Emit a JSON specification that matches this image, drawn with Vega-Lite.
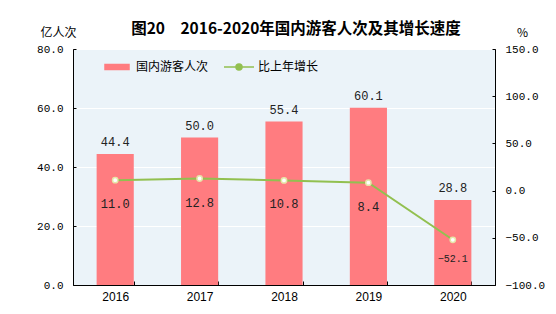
{
  "$schema": "https://vega.github.io/schema/vega-lite/v6.json",
  "autosize": "none",
  "width": 422,
  "height": 236,
  "padding": {"left": 73, "top": 49, "right": 61, "bottom": 29},
  "background": "white",
  "title": {
    "text": "图20　2016-2020年国内游客人次及其增长速度",
    "font": "Noto Sans CJK SC",
    "fontSize": 15.5,
    "fontWeight": "bold",
    "color": "#000",
    "anchor": "middle",
    "dx": 12,
    "dy": 27,
    "offset": 16
  },
  "config": {
    "view": {"fill": "#EBF3F9", "stroke": "#000", "strokeWidth": 1},
    "axis": {
      "labelFont": "Liberation Mono",
      "labelFontSize": 11,
      "labelColor": "#000",
      "domainColor": "#000",
      "tickColor": "#000",
      "titleFont": "Noto Sans CJK SC",
      "titleFontSize": 12,
      "titleFontWeight": "normal",
      "titleColor": "#000"
    }
  },
  "data": {
    "values": [
      {"year": "2016", "visitors": 44.4, "growth": 11.0},
      {"year": "2017", "visitors": 50.0, "growth": 12.8},
      {"year": "2018", "visitors": 55.4, "growth": 10.8},
      {"year": "2019", "visitors": 60.1, "growth": 8.4},
      {"year": "2020", "visitors": 28.8, "growth": -52.1}
    ]
  },
  "encoding": {
    "x": {
      "field": "year",
      "type": "ordinal",
      "scale": {"paddingInner": 0.56, "paddingOuter": 0.28},
      "axis": {
        "title": null,
        "labelAngle": 0,
        "labelFont": "Liberation Sans",
        "labelFontSize": 12,
        "tickBand": "extent",
        "tickSize": -4,
        "labelPadding": 10,
        "grid": false
      }
    }
  },
  "layer": [
    {
      "layer": [
        {
          "mark": {"type": "bar"},
          "encoding": {
            "y": {
              "field": "visitors",
              "type": "quantitative",
              "scale": {"domain": [0, 80], "nice": false},
              "axis": {
                "title": "亿人次",
                "titleAngle": 0,
                "titleAlign": "center",
                "titleBaseline": "middle",
                "titleX": -15,
                "titleY": -17,
                "values": [0, 20, 40, 60, 80],
                "format": ".1f",
                "grid": true,
                "gridColor": "#ffffff",
                "gridWidth": 1,
                "tickSize": -3,
                "labelPadding": 13
              }
            },
            "color": {
              "datum": "国内游客人次",
              "type": "nominal",
              "scale": {"domain": ["国内游客人次", "比上年增长"], "range": ["#FF7C80", "#92C050"]},
              "legend": {
                "orient": "none",
                "legendX": 28,
                "legendY": 2,
                "direction": "horizontal",
                "title": null,
                "padding": 0,
                "symbolSize": 900,
                "labelFont": "Noto Sans CJK SC",
                "labelFontSize": 12,
                "labelColor": "#000",
                "labelOffset": 3,
                "columnPadding": 12,
                "encode": {
                  "symbols": {
                    "update": {
                      "shape": {"signal": "datum.value === '国内游客人次' ? 'M-0.8,-0.17H0.8V0.17H-0.8Z' : 'M-1,0H-0.2M0.2,0H1M0.2,0A0.2,0.2 0 1 1 -0.2,0A0.2,0.2 0 1 1 0.2,0'"},
                      "fill": {"signal": "datum.value === '国内游客人次' ? '#FF7C80' : '#ffffff'"},
                      "stroke": {"signal": "datum.value === '国内游客人次' ? 'transparent' : '#92C050'"},
                      "strokeWidth": {"value": 1.5},
                      "fillOpacity": {"value": 1},
                      "strokeOpacity": {"value": 1},
                      "opacity": {"value": 1}
                    }
                  }
                }
              }
            }
          }
        },
        {
          "mark": {"type": "text", "font": "Liberation Mono", "fontSize": 12, "color": "#222", "baseline": "middle", "dy": -12},
          "encoding": {
            "y": {"field": "visitors", "type": "quantitative", "scale": {"domain": [0, 80], "nice": false}},
            "text": {"field": "visitors", "type": "quantitative", "format": ".1f"}
          }
        }
      ]
    },
    {
      "layer": [
        {
          "mark": {"type": "line", "strokeWidth": 2},
          "encoding": {
            "y": {
              "field": "growth",
              "type": "quantitative",
              "scale": {"domain": [-100, 150], "nice": false},
              "axis": {
                "orient": "right",
                "title": "%",
                "titleAngle": 0,
                "titleAlign": "center",
                "titleBaseline": "middle",
                "titleX": 27,
                "titleY": -17,
                "values": [-100, -50, 0, 50, 100, 150],
                "format": ".1f",
                "grid": false,
                "tickSize": -3,
                "labelPadding": 13
              }
            },
            "color": {"datum": "比上年增长", "type": "nominal"}
          }
        },
        {
          "mark": {"type": "point", "filled": true, "fill": "#ffffff", "stroke": "#E6E6A8", "strokeWidth": 1.5, "size": 28, "opacity": 1},
          "encoding": {
            "y": {"field": "growth", "type": "quantitative", "scale": {"domain": [-100, 150], "nice": false}}
          }
        },
        {
          "transform": [{"filter": "datum.growth >= 0"}],
          "mark": {"type": "text", "font": "Liberation Mono", "fontSize": 12, "color": "#222", "baseline": "middle", "dy": 24},
          "encoding": {
            "y": {"field": "growth", "type": "quantitative", "scale": {"domain": [-100, 150], "nice": false}},
            "text": {"field": "growth", "type": "quantitative", "format": ".1f"}
          }
        },
        {
          "transform": [{"filter": "datum.growth < 0"}],
          "mark": {"type": "text", "font": "Liberation Mono", "fontSize": 10, "color": "#222", "baseline": "middle", "dy": 19},
          "encoding": {
            "y": {"field": "growth", "type": "quantitative", "scale": {"domain": [-100, 150], "nice": false}},
            "text": {"field": "growth", "type": "quantitative", "format": ".1f"}
          }
        }
      ]
    }
  ],
  "resolve": {"scale": {"y": "independent"}}
}
